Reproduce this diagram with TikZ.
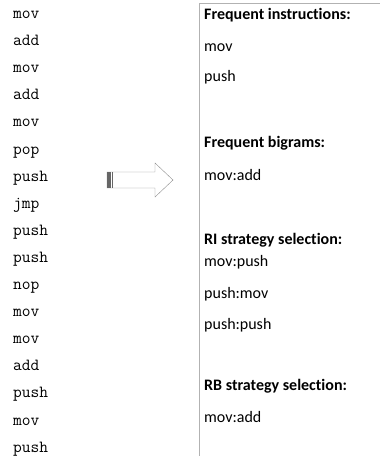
\documentclass[tikz,border=0pt]{standalone}
\usepackage{fontspec}
\setmainfont{Carlito}[Ligatures=NoCommon]
\begin{document}
\begin{tikzpicture}[x=1pt,y=-1pt,
  asm/.style={anchor=base west,inner sep=0pt,font=\ttfamily\fontsize{17}{20}\selectfont},
  res/.style={anchor=base west,inner sep=0pt,font=\fontsize{16}{19}\selectfont},
  hdr/.style={anchor=base west,inner sep=0pt,font=\bfseries\fontsize{16}{19}\selectfont}]
  \useasboundingbox (0,0) rectangle (380,456);
  % instruction trace
  \node (i1) at (13,18.5) [asm] {mov};
  \node (i2) at (13,45.6) [asm] {add};
  \node (i3) at (13,72.7) [asm] {mov};
  \node (i4) at (13,99.8) [asm] {add};
  \node (i5) at (13,126.9) [asm] {mov};
  \node (i6) at (13,154) [asm] {pop};
  \node (i7) at (13,181.1) [asm] {push};
  \node (i8) at (13,208.2) [asm] {jmp};
  \node (i9) at (13,235.3) [asm] {push};
  \node (i10) at (13,262.4) [asm] {push};
  \node (i11) at (13,289.5) [asm] {nop};
  \node (i12) at (13,316.6) [asm] {mov};
  \node (i13) at (13,343.7) [asm] {mov};
  \node (i14) at (13,370.8) [asm] {add};
  \node (i15) at (13,397.9) [asm] {push};
  \node (i16) at (13,425) [asm] {mov};
  \node (i17) at (13,452.1) [asm] {push};

  % block arrow
  \draw[gray!90] (107,172) -- (155,172) -- (155,163) -- (173,180)
    -- (155,197) -- (155,188) -- (107,188) -- cycle;
  \fill[gray!80!black] (107,172) rectangle (110.5,188);
  \draw[gray!80!black] (112.5,172) -- (112.5,188);

  % result box
  \draw[gray!60] (199,456) -- (199,3) -- (380,3);
  \node (h1) at (204,19.5) [hdr] {Frequent instructions:};
  \node (r1) at (204,51) [res] {mov};
  \node (r2) at (204,81.5) [res] {push};
  \node (h2) at (204,147) [hdr] {Frequent bigrams:};
  \node (r3) at (204,180) [res] {mov:add};
  \node (h3) at (204,244) [hdr] {RI strategy selection:};
  \node (r4) at (204,266) [res] {mov:push};
  \node (r5) at (204,298.5) [res] {push:mov};
  \node (r6) at (204,329) [res] {push:push};
  \node (h4) at (204,390) [hdr] {RB strategy selection:};
  \node (r7) at (204,422) [res] {mov:add};
\end{tikzpicture}
\end{document}
